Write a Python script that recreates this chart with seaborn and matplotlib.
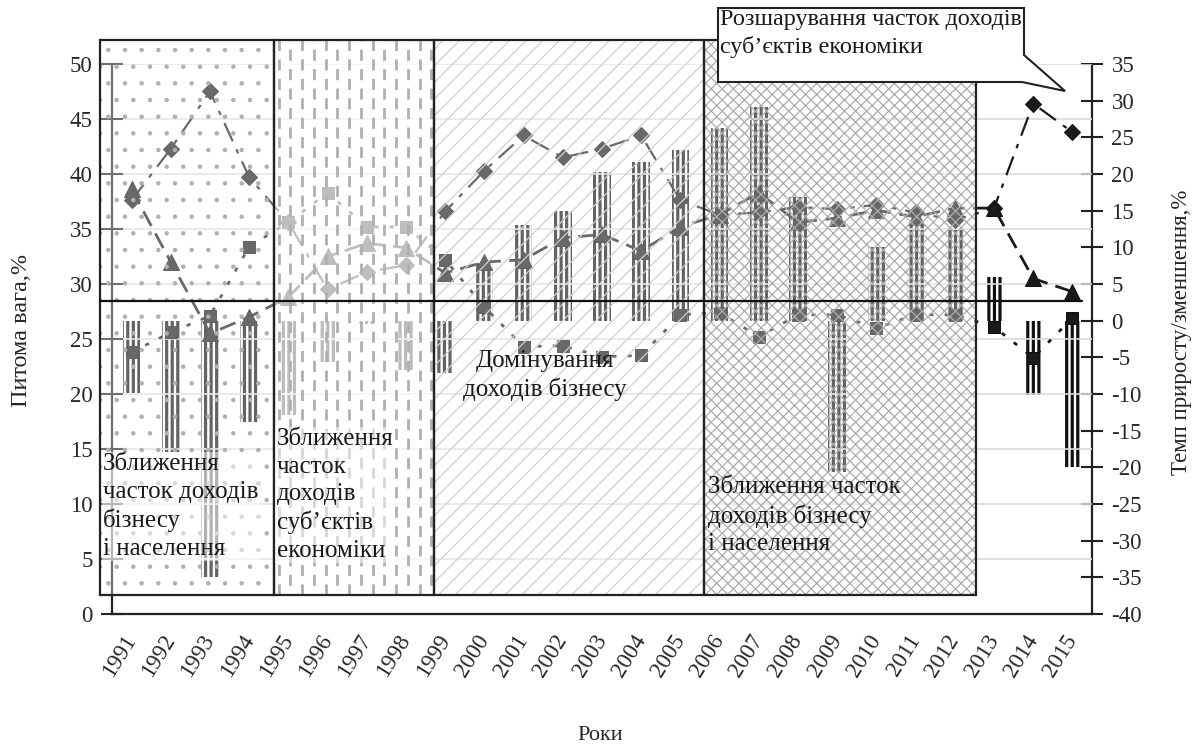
import numpy as np
import pandas as pd
import matplotlib.pyplot as plt
import matplotlib.patches as mpatches
import seaborn as sns

years = ['1991', '1992', '1993', '1994', '1995', '1996', '1997', '1998', '1999', '2000',
         '2001', '2002', '2003', '2004', '2005', '2006', '2007', '2008', '2009', '2010',
         '2011', '2012', '2013', '2014', '2015']

# питома вага, % (ліва вісь)
diamond_share = [37.6, 42.3, 47.5, 39.7, 35.6, 29.5, 31.1, 31.7, 36.6, 40.3,
                 43.5, 41.5, 42.3, 43.5, 37.6, 36.3, 36.5, 37.0, 36.8, 37.2,
                 36.5, 35.8, 36.9, 46.4, 43.8]
triangle_share = [38.6, 32.0, 25.5, 27.0, 28.8, 32.5, 33.7, 33.3, 31.0, 32.0,
                  32.2, 34.2, 34.5, 33.0, 35.2, 36.3, 38.3, 35.6, 36.0, 36.7,
                  36.1, 36.9, 36.9, 30.5, 29.3]
square_share = [23.8, 25.6, 27.1, 33.4, 35.6, 38.3, 35.2, 35.2, 32.2, 27.9,
                24.3, 24.4, 23.4, 23.5, 27.2, 27.4, 25.2, 27.2, 27.2, 26.0,
                27.2, 27.2, 26.1, 23.3, 26.9]

# темп приросту/зменшення, % (права вісь)
growth_rate = [-9.8, -17.9, -34.9, -13.8, -12.8, -5.6, -0.4, -6.7, -7.1, 7.9,
               13.1, 15.0, 20.3, 21.7, 23.3, 26.3, 29.2, 16.8, -20.6, 10.1,
               13.1, 12.4, 6.0, -10.1, -19.9]

df = pd.DataFrame({'year': years, 'diamond': diamond_share, 'triangle': triangle_share,
                   'square': square_share, 'growth': growth_rate})
df['pos'] = np.arange(len(df))

sns.set_theme(style='white')
plt.rcParams['font.family'] = ['Liberation Serif', 'DejaVu Serif']
plt.rcParams['axes.unicode_minus'] = False
plt.rcParams['hatch.linewidth'] = 1.0

W, H = 1199, 749
fig = plt.figure(figsize=(W / 100, H / 100), dpi=100)
ax = fig.add_axes([112 / W, 1 - 614 / H, 980 / W, 550 / H])
ax2 = ax.twinx()
ax.set_zorder(2)
ax2.set_zorder(1)
ax.patch.set_visible(False)


def hatch_lw(patch, lw):
    if hasattr(patch, 'set_hatch_linewidth'):
        patch.set_hatch_linewidth(lw)


# bars (right axis)
sns.barplot(data=df, x='pos', y='growth', ax=ax2, color='#111111', saturation=1,
            width=0.45, native_scale=True)
for p in ax2.patches:
    p.set_edgecolor('white')
    p.set_linewidth(0)
    p.set_hatch('|||')
    hatch_lw(p, 1.7)

# share lines (left axis)
sns.lineplot(data=df, x='pos', y='diamond', ax=ax, color='#1a1a1a', marker='D', markersize=8,
             mec='#111111', linestyle=(0, (9, 4, 2, 4)), lw=1.6, errorbar=None)
sns.lineplot(data=df, x='pos', y='triangle', ax=ax, color='#1a1a1a', marker='^', markersize=11,
             mec='#111111', linestyle=(0, (6, 3)), lw=2.0, errorbar=None)
sns.lineplot(data=df, x='pos', y='square', ax=ax, color='#1a1a1a', marker='s', markersize=8.5,
             mec='#111111', linestyle=(0, (1.5, 4)), lw=2.0, errorbar=None)

ax.set_xlim(-0.5, len(years) - 0.5)
ax.set_ylim(0, 50)
ax2.set_ylim(-40, 35)

# shaded periods
trans = ax.get_xaxis_transform()
y0, y1 = 0.0345, 1.0436
edges = [-0.81, 3.63, 7.71, 14.6, 21.54]
styles = [('.', '#b0b0b0', 0.35, 0.8), (None, '#b0b0b0', 0.72, 1.0),
          ('//', '#cfcfcf', 0.35, 0.9), ('xxx', '#acacac', 0.35, 0.9)]
for (xa, xb), (hatch, hc, a, hl) in zip(zip(edges[:-1], edges[1:]), styles):
    r = mpatches.Rectangle((xa, y0), xb - xa, y1 - y0, transform=trans,
                           facecolor=(1, 1, 1, a), edgecolor=hc, hatch=hatch,
                           lw=0, zorder=5, clip_on=False)
    hatch_lw(r, hl)
    ax.add_patch(r)
    ax.add_patch(mpatches.Rectangle((xa, y0), xb - xa, y1 - y0, transform=trans,
                                    fill=False, edgecolor='#222222', lw=1.6, zorder=6,
                                    clip_on=False))
dash_x = np.arange(edges[1] + 0.12, edges[2] - 0.05, 0.3)
ax.vlines(dash_x[::2], y0, y1, transform=trans, colors='#b0b0b0', lw=2,
          linestyles=[(0, (4, 3))], zorder=5.5, clip_on=False)
ax.vlines(dash_x[1::2], y0, y1, transform=trans, colors='#b0b0b0', lw=2,
          linestyles=[(3.5, (4, 3))], zorder=5.5, clip_on=False)

# black horizontal line
ax.plot([-0.8, 24.25], [28.45, 28.45], color='#111111', lw=1.6, zorder=8, clip_on=False)

tb = dict(boxstyle='square,pad=0.05', facecolor='white', alpha=0.5, edgecolor='none')
fs = 18
ls = 1.32
ax.text(-0.73, 14.6, 'Зближення\nчасток доходів\nбізнесу\nі населення', fontsize=fs,
        va='top', ha='left', linespacing=ls, bbox=tb, zorder=7, color='#1a1a1a')
ax.text(3.7, 16.9, 'Зближення\nчасток\nдоходів\nсуб’єктів\nекономіки', fontsize=fs,
        va='top', ha='left', linespacing=ls, bbox=tb, zorder=7, color='#1a1a1a')
ax.text(10.55, 24.0, 'Домінування\nдоходів бізнесу', fontsize=fs, va='top', ha='center',
        multialignment='center', linespacing=ls, zorder=7, color='#1a1a1a')
ax.text(14.7, 12.5, 'Зближення часток\nдоходів бізнесу\nі населення', fontsize=fs,
        va='top', ha='left', linespacing=ls, zorder=7, color='#1a1a1a')

# callout
pts = [(718, 8), (1024, 8), (1024, 55), (1065, 91), (1022, 82), (718, 82)]
fig.patches.append(mpatches.Polygon([(x / W, 1 - y / H) for x, y in pts], closed=True,
                                    transform=fig.transFigure, facecolor='white',
                                    edgecolor='#222222', lw=1.5, zorder=10))
fig.text(720 / W, 1 - 9 / H, 'Розшарування часток доходів\nсуб’єктів економіки', fontsize=17.4,
         va='top', ha='left', linespacing=1.35, zorder=11, color='#1a1a1a')

# axes styling
ax.set_xticks(np.arange(-0.5, len(years), 1))
ax.set_xticks(df['pos'], labels=years, minor=True)
ax.tick_params(axis='x', which='major', direction='inout', length=18, width=1.5,
               labelbottom=False, color='#222222')
ax.tick_params(axis='x', which='minor', length=0, pad=16, labelsize=16.5)
for lab in ax.get_xticklabels(minor=True):
    lab.set_rotation(58)
    lab.set_ha('right')
    lab.set_va('center')
    lab.set_rotation_mode('anchor')
ax.set_yticks(range(0, 51, 5))
ax.tick_params(axis='y', direction='inout', length=16, width=1.5, labelsize=16.5,
               color='#222222', pad=6)
ax.yaxis.grid(True, color='#dadada', lw=1.2)
ax.xaxis.grid(False)
ax2.set_yticks(range(-40, 36, 5))
ax2.tick_params(axis='y', direction='inout', length=16, width=1.5, labelsize=16.5,
                color='#222222', pad=6)
ax2.tick_params(axis='x', which='both', bottom=False, labelbottom=False)
ax2.grid(False)
ax.set_xlabel('')
ax.set_ylabel('')
ax2.set_xlabel('')
ax2.set_ylabel('')
for s in ['top', 'right']:
    ax.spines[s].set_visible(False)
for s in ['top', 'left', 'bottom']:
    ax2.spines[s].set_visible(False)
for s in ['left', 'bottom']:
    ax.spines[s].set_color('#222222')
    ax.spines[s].set_linewidth(1.6)
ax2.spines['right'].set_color('#222222')
ax2.spines['right'].set_linewidth(1.6)

fig.text(22 / W, 1 - 330 / H, 'Питома вага,%', rotation=90, va='center', ha='center',
         fontsize=17.5)
fig.text(1182 / W, 1 - 332 / H, 'Темп приросту/зменшення,%', rotation=90, va='center',
         ha='center', fontsize=16.5)
fig.text(600 / W, 1 - 735 / H, 'Роки', va='center', ha='center', fontsize=16)

fig.savefig('out.png', dpi=100)
